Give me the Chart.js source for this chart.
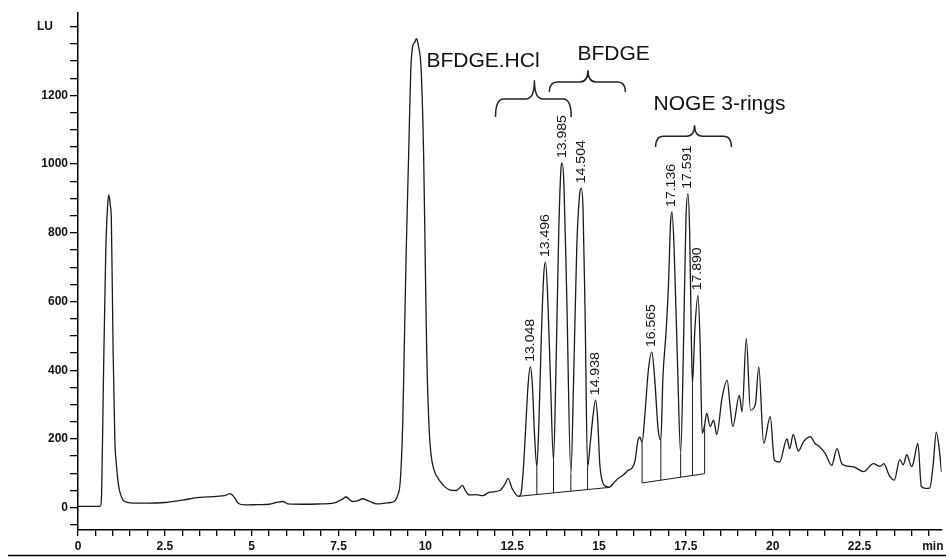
<!DOCTYPE html>
<html>
<head>
<meta charset="utf-8">
<script src="https://cdn.jsdelivr.net/npm/chart.js@4.4.1/dist/chart.umd.min.js"></script>
<style>
  body { margin: 0; background: #fff; }
  #wrap { width: 946px; height: 557px; }
</style>
</head>
<body>
<div id="wrap"><canvas id="chromChart"></canvas></div>
<script>
    // retention time (min) and fluorescence signal (LU)
    var times = [
        0, 0.64, 0.68, 0.73, 0.8, 0.86, 0.89, 0.93, 0.96, 1.01, 1.06, 1.11, 1.16, 1.22, 1.3, 1.4, 1.6,
        2.0, 2.5, 3.0, 3.5, 4.0, 4.25, 4.38, 4.5, 4.62, 4.8, 5.2, 5.5, 5.75, 5.9, 6.05, 6.5, 7.0, 7.35,
        7.6, 7.72, 7.9, 8.05, 8.2, 8.4, 8.6, 8.9, 9.1, 9.2, 9.28, 9.35, 9.39, 9.45, 9.52, 9.58, 9.64,
        9.7, 9.74, 9.8, 9.88, 9.95, 10.0, 10.04, 10.1, 10.16, 10.25, 10.4, 10.55, 10.69, 10.9, 11.07,
        11.15, 11.26, 11.45, 11.65, 11.85, 12.15, 12.3, 12.38, 12.5, 12.68,
        12.75, 12.82, 12.88, 12.96, 13.02, 13.08, 13.14, 13.21, 13.27, 13.34, 13.41, 13.46, 13.52, 13.6,
        13.69, 13.76, 13.84, 13.9, 13.94, 13.99, 14.07, 14.19, 14.27, 14.36, 14.44, 14.49, 14.54, 14.6,
        14.67, 14.75, 14.83, 14.9, 14.96, 15.02, 15.1, 15.2, 15.3, 15.45, 15.55, 15.7, 15.84, 15.95,
        16.04, 16.12, 16.18, 16.24, 16.32, 16.42, 16.52, 16.6, 16.7, 16.78, 16.84, 16.93, 17.0, 17.06,
        17.1, 17.16, 17.26, 17.35, 17.43, 17.5, 17.56, 17.61, 17.66, 17.69, 17.76, 17.85, 17.91, 17.97,
        18.04, 18.1, 18.2, 18.3, 18.39, 18.54, 18.69, 18.77, 18.85, 19.04, 19.12, 19.24, 19.36, 19.5,
        19.6, 19.74, 19.93, 20.05, 20.2, 20.41, 20.49, 20.59, 20.74, 20.88, 20.96, 21.08, 21.22, 21.32,
        21.51, 21.7, 21.85, 21.99, 22.23, 22.33, 22.62, 22.9, 23.09, 23.2, 23.35, 23.5, 23.66, 23.76,
        23.86, 24.0, 24.05, 24.18, 24.28, 24.4, 24.52, 24.62, 24.71, 24.8, 24.86
    ];
    var signal = [
        4, 4, 40, 360, 750, 890, 910, 880, 840, 460, 200, 120, 70, 40, 22, 16, 13,
        13, 15, 22, 30, 33, 36, 41, 30, 12, 8, 9, 10, 16, 18, 11, 10, 11, 13,
        24, 31, 18, 20, 26, 18, 11, 14, 18, 35, 80, 250, 450, 750, 1030, 1273, 1345,
        1355, 1365, 1345, 1273, 1030, 700, 450, 250, 158, 110, 80, 62, 52, 50, 65,
        50, 37, 38, 35, 45, 50, 70, 85, 55, 33,
        40, 110, 216, 360, 410, 360, 220, 119, 250, 500, 680, 715, 620, 380,
        138, 400, 800, 980, 1003, 940, 620, 99, 380, 760, 910, 930, 870, 560,
        119, 190, 270, 313, 260, 130, 75, 62, 60, 75, 85, 95, 109, 115,
        138, 196, 205, 190, 270, 400, 453, 380, 230, 196, 380, 511, 650, 830,
        861, 760, 420, 158, 460, 830, 914, 800, 480, 362, 520, 618, 480, 216,
        240, 275, 236, 255, 213, 318, 371, 300, 236, 327, 279, 493, 284, 300,
        410, 187, 265, 138, 133, 200, 172, 213, 165, 191, 200, 207, 187, 180,
        158, 123, 172, 128, 120, 119, 105, 128, 120, 128, 95, 80, 140, 125,
        154, 120, 130, 187, 62, 56, 57, 125, 220, 166, 104
    ];

    // integrated peaks: retention time labels
    var peakLabels = ["13.048", "13.496", "13.985", "14.504", "14.938", "16.565", "17.136", "17.591", "17.890"];
    var peakTimes = [13.02, 13.46, 13.94, 14.49, 14.9, 16.52, 17.1, 17.56, 17.85];
    var peakHeights = [410, 715, 1003, 930, 313, 453, 861, 914, 618];

    // integration baselines and drop lines
    var baseTimesA = [12.68, 15.3];
    var baseValuesA = [33, 59];
    var baseTimesB = [16.24, 18.04];
    var baseValuesB = [72, 99];
    var dropTimes = [13.21, 13.69, 14.19, 14.67, 16.24, 16.78, 17.35, 17.69, 18.04];
    var dropBase = [38, 43, 48, 53, 72, 80, 89, 94, 99];
    var dropTop = [119, 138, 99, 119, 190, 196, 158, 362, 240];

    // axis ticks
    var xLabelStep = 2.5;
    var yLabelValues = [0, 200, 400, 600, 800, 1000, 1200];

    var FONT = '"Liberation Sans", Arial, sans-serif';

    // group annotations (data coordinates)
    var groups = [
        { text: "BFDGE.HCl", tx: 10.03, ty: 1300, align: "left", from: 12.02, to: 14.2, mid: 13.14, end: 1137, bar: 1190, tip: 1244 },
        { text: "BFDGE", tx: 15.42, ty: 1319, align: "center", from: 13.57, to: 15.76, mid: 14.68, end: 1210, bar: 1239, tip: 1273 },
        { text: "NOGE 3-rings", tx: 18.47, ty: 1175, align: "center", from: 16.63, to: 18.81, mid: 17.75, end: 1050, bar: 1081, tip: 1113 }
    ];

    function pairs(xs, ys) {
        var out = [];
        for (var i = 0; i < xs.length; i++) out.push({ x: xs[i], y: ys[i] });
        return out;
    }

    function dropPoints() {
        var out = [];
        for (var i = 0; i < dropTimes.length; i++) {
            out.push({ x: dropTimes[i], y: dropBase[i] });
            out.push({ x: dropTimes[i], y: dropTop[i] });
            out.push({ x: dropTimes[i], y: null });
        }
        return out;
    }

    function drawBrace(ctx, x1, x2, xm, yEnd, yBar, yTip) {
        var r = 8;
        ctx.beginPath();
        ctx.moveTo(x1, yEnd);
        ctx.quadraticCurveTo(x1, yBar, x1 + r, yBar);
        ctx.lineTo(xm - r, yBar);
        ctx.quadraticCurveTo(xm, yBar, xm, yTip);
        ctx.quadraticCurveTo(xm, yBar, xm + r, yBar);
        ctx.lineTo(x2 - r, yBar);
        ctx.quadraticCurveTo(x2, yBar, x2, yEnd);
        ctx.stroke();
    }

    var overlay = {
        id: 'overlay',
        afterDatasetsDraw: function(chart) {
            var ctx = chart.ctx, xs = chart.scales.x, ys = chart.scales.y;
            ctx.save();
            ctx.fillStyle = '#111';
            ctx.font = '12px ' + FONT;
            ctx.textAlign = 'left';
            ctx.textBaseline = 'middle';
            for (var i = 0; i < peakLabels.length; i++) {
                ctx.save();
                ctx.translate(xs.getPixelForValue(peakTimes[i]), ys.getPixelForValue(peakHeights[i]) - 5);
                ctx.rotate(-Math.PI / 2);
                ctx.scale(1.17, 1);
                ctx.fillText(peakLabels[i], 0, 0);
                ctx.restore();
            }

            ctx.strokeStyle = '#222';
            ctx.lineWidth = 1.5;
            ctx.font = '21px ' + FONT;
            groups.forEach(function(g) {
                drawBrace(ctx,
                    xs.getPixelForValue(g.from), xs.getPixelForValue(g.to), xs.getPixelForValue(g.mid),
                    ys.getPixelForValue(g.end), ys.getPixelForValue(g.bar), ys.getPixelForValue(g.tip));
                ctx.textAlign = g.align;
                ctx.fillText(g.text, xs.getPixelForValue(g.tx), ys.getPixelForValue(g.ty));
            });
            ctx.restore();
        },
        afterDraw: function(chart) {
            var ctx = chart.ctx, ys = chart.scales.y, area = chart.chartArea;
            ctx.save();
            ctx.fillStyle = '#111';
            ctx.font = 'bold 12px ' + FONT;
            ctx.textBaseline = 'middle';
            ctx.textAlign = 'center';
            ctx.fillText('LU', 45, ys.getPixelForValue(1400));
            ctx.textAlign = 'right';
            ctx.fillText('min', area.right + 2, area.bottom + 17);
            ctx.strokeStyle = '#000';
            ctx.lineWidth = 1.5;
            ctx.beginPath();
            ctx.moveTo(8, chart.height - 1.5);
            ctx.lineTo(chart.width, chart.height - 1.5);
            ctx.stroke();
            ctx.restore();
        }
    };

    window.onload = function() {
        new Chart("chromChart", {
            type: 'line',
            data: {
                datasets: [{
                    data: pairs(times, signal),
                    borderColor: '#1a1a1a',
                    borderWidth: 1.3,
                    pointRadius: 0,
                    cubicInterpolationMode: 'monotone',
                    fill: false
                }, {
                    data: pairs(baseTimesA, baseValuesA),
                    borderColor: '#1a1a1a',
                    borderWidth: 1,
                    pointRadius: 0
                }, {
                    data: pairs(baseTimesB, baseValuesB),
                    borderColor: '#1a1a1a',
                    borderWidth: 1,
                    pointRadius: 0
                }, {
                    data: dropPoints(),
                    borderColor: '#1a1a1a',
                    borderWidth: 1,
                    pointRadius: 0,
                    spanGaps: false
                }]
            },
            options: {
                responsive: true,
                maintainAspectRatio: false,
                animation: false,
                layout: { padding: { top: 13, right: 4.5, left: 0, bottom: 0 } },
                plugins: {
                    legend: { display: false },
                    tooltip: { enabled: false }
                },
                scales: {
                    x: {
                        type: 'linear',
                        min: 0,
                        max: 24.86,
                        afterFit: function(s) { s.height = 27; },
                        border: { color: '#000', width: 1.5 },
                        grid: { drawOnChartArea: false, color: '#000', lineWidth: 1.3, tickLength: 6 },
                        ticks: {
                            stepSize: 0.5,
                            autoSkip: false,
                            maxRotation: 0,
                            includeBounds: false,
                            padding: 3,
                            color: '#111',
                            font: { family: FONT, size: 12, weight: 'bold' },
                            callback: function(v) {
                                var k = v / xLabelStep;
                                return Math.abs(k - Math.round(k)) < 1e-6 ? String(Math.round(v * 10) / 10) : '';
                            }
                        }
                    },
                    y: {
                        min: -65,
                        max: 1440,
                        afterFit: function(s) { s.width = 78; },
                        border: { color: '#000', width: 1.5 },
                        grid: { drawOnChartArea: false, color: '#000', lineWidth: 1.3, tickLength: 8 },
                        ticks: {
                            stepSize: 50,
                            autoSkip: false,
                            includeBounds: false,
                            padding: 2,
                            color: '#111',
                            font: { family: FONT, size: 12, weight: 'bold' },
                            callback: function(v) {
                                return yLabelValues.indexOf(Math.round(v)) >= 0 ? String(Math.round(v)) : '';
                            }
                        }
                    }
                }
            },
            plugins: [overlay]
        });
    };
</script>
</body>
</html>
